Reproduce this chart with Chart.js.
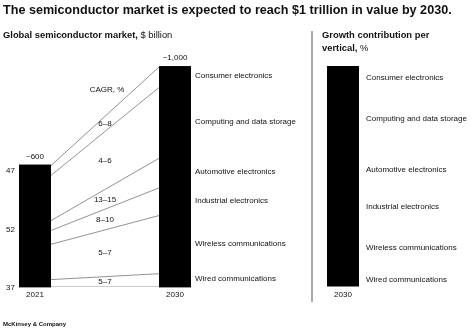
<!DOCTYPE html>
<html>
<head>
<meta charset="utf-8">
<script src="https://cdn.jsdelivr.net/npm/chart.js@4"></script>
<style>
  body { margin: 0; background: #fff; font-family: "Liberation Sans", Arial, sans-serif; color: #111; }
  #wrap { position: relative; width: 474px; height: 330px; overflow: hidden; background: #fff; }
  .txt { position: absolute; white-space: nowrap; color: #111; z-index: 2; }
  #title { left: 3px; top: 3px; font-size: 12.6px; font-weight: bold; }
  #sub1 { left: 3px; top: 29px; font-size: 9.4px; }
  #sub2 { left: 322px; top: 28px; font-size: 9.4px; line-height: 13px; }
  #sep { position: absolute; left: 311px; top: 31px; width: 1.5px; height: 271px; background: #aaa; }
  #foot { left: 3px; top: 321px; font-size: 6px; font-weight: bold; }
  .side { font-size: 8px; left: 6px; }
  canvas { position: absolute; top: 0; z-index: 1; }
</style>
</head>
<body>
<div id="wrap">
  <div id="title" class="txt">The semiconductor market is expected to reach $1 trillion in value by 2030.</div>
  <div id="sub1" class="txt"><b>Global semiconductor market,</b> $ billion</div>
  <div id="sub2" class="txt"><b>Growth contribution per<br>vertical,</b> %</div>
  <div id="sep"></div>
  <div id="foot" class="txt">McKinsey &amp; Company</div>
  <div id="sides"></div>
  <canvas id="marketChart" width="310" height="330" style="left:0"></canvas>
  <canvas id="growthChart" width="163" height="330" style="left:311px"></canvas>
</div>
<script>
// dados (de baixo para cima)
const years = ['2021', '2030'];
const verticals = ['Wired communications', 'Wireless communications', 'Industrial electronics',
  'Automotive electronics', 'Computing and data storage', 'Consumer electronics'];
const market2021 = [31, 161, 63, 45, 206, 45];
const market2030 = [58, 265, 126, 135, 323, 93];
const cagr = ['5–7', '5–7', '8–10', '13–15', '4–6', '6–8'];
const totals = ['~600', '~1,000'];
const growthShare = [6, 23, 14, 20, 26, 11];
const sideLabels = ['47', '52', '37'];
const sideTops = [166, 225, 283];

const font = '"Liberation Sans", Arial, sans-serif';
const textColor = '#111';

// rotulos soltos a esquerda
const sides = document.getElementById('sides');
sideLabels.forEach((s, i) => {
  const d = document.createElement('div');
  d.className = 'txt side';
  d.style.top = sideTops[i] + 'px';
  d.textContent = s;
  sides.appendChild(d);
});

const bridgePlugin = {
  id: 'bridge',
  afterDatasetsDraw(chart) {
    const c = chart.ctx;
    const n = chart.data.datasets.length;
    const el = (i, j) => chart.getDatasetMeta(i).data[j];
    // fronteiras: 0 = base, k = topo do segmento k-1
    const edge = (k, j) => k === 0 ? el(0, j).base : el(k - 1, j).y;
    const xa = el(0, 0).x + el(0, 0).width / 2 + 1;
    const xb = el(0, 1).x - el(0, 1).width / 2 - 1;

    c.save();
    for (let k = 0; k <= n; k++) {
      c.beginPath();
      c.strokeStyle = k === 0 ? '#bbb' : '#777';
      c.lineWidth = 0.8;
      c.moveTo(xa, edge(k, 0));
      c.lineTo(xb, edge(k, 1));
      c.stroke();
    }

    c.fillStyle = textColor;
    c.font = '8px ' + font;
    c.textAlign = 'center';
    c.textBaseline = 'middle';
    const xm = (xa + xb) / 2;
    for (let i = 0; i < n; i++) {
      const ym = (edge(i, 0) + edge(i + 1, 0) + edge(i, 1) + edge(i + 1, 1)) / 4;
      c.fillText(cagr[i], xm, ym);
    }
    c.fillText('CAGR, %', xm + 2, (edge(n, 0) + edge(n, 1)) / 2 - 27);

    // totais acima das barras
    years.forEach((y, j) => {
      const top = el(n - 1, j);
      c.fillText(totals[j], top.x, top.y - 9);
    });

    // nomes dos segmentos ao lado da barra de 2030
    c.textAlign = 'left';
    for (let i = 0; i < n; i++) {
      const b = el(i, 1);
      c.fillText(verticals[i], b.x + b.width / 2 + 5, (b.y + b.base) / 2 - 1);
    }
    c.restore();
  }
};

const growthLabels = {
  id: 'growthLabels',
  afterDatasetsDraw(chart) {
    const c = chart.ctx;
    c.save();
    c.fillStyle = textColor;
    c.font = '8px ' + font;
    c.textBaseline = 'middle';
    chart.data.datasets.forEach((ds, i) => {
      const b = chart.getDatasetMeta(i).data[0];
      c.fillText(verticals[i], b.x + b.width / 2 + 8, (b.y + b.base) / 2);
    });
    c.restore();
  }
};

const xAxis = {
  stacked: true,
  grid: { display: false, drawTicks: false },
  border: { display: false },
  ticks: { color: textColor, font: { family: font, size: 8 }, padding: 4 }
};

const barStyle = { backgroundColor: '#000', borderWidth: 0, barThickness: 30, inflateAmount: 1 };

new Chart(document.getElementById('marketChart'), {
  type: 'bar',
  data: {
    labels: years,
    datasets: verticals.map((v, i) => Object.assign({
      label: v,
      data: [market2021[i], market2030[i]],
      clip: false
    }, barStyle))
  },
  options: {
    responsive: false,
    animation: false,
    layout: { padding: { left: 35, right: 135, top: 55, bottom: 26 } },
    plugins: { legend: { display: false }, tooltip: { enabled: false } },
    scales: {
      x: Object.assign({ offset: false }, xAxis),
      y: { stacked: true, min: 0, max: 1055, display: false }
    }
  },
  plugins: [bridgePlugin]
});

new Chart(document.getElementById('growthChart'), {
  type: 'bar',
  data: {
    labels: ['2030'],
    datasets: verticals.map((v, i) => Object.assign({
      label: v,
      data: [growthShare[i]]
    }, barStyle))
  },
  options: {
    responsive: false,
    animation: false,
    layout: { padding: { left: 16, right: 115, top: 66, bottom: 26 } },
    plugins: { legend: { display: false }, tooltip: { enabled: false } },
    scales: {
      x: Object.assign({ offset: true }, xAxis),
      y: { stacked: true, min: 0, max: 100, display: false }
    }
  },
  plugins: [growthLabels]
});
</script>
</body>
</html>
